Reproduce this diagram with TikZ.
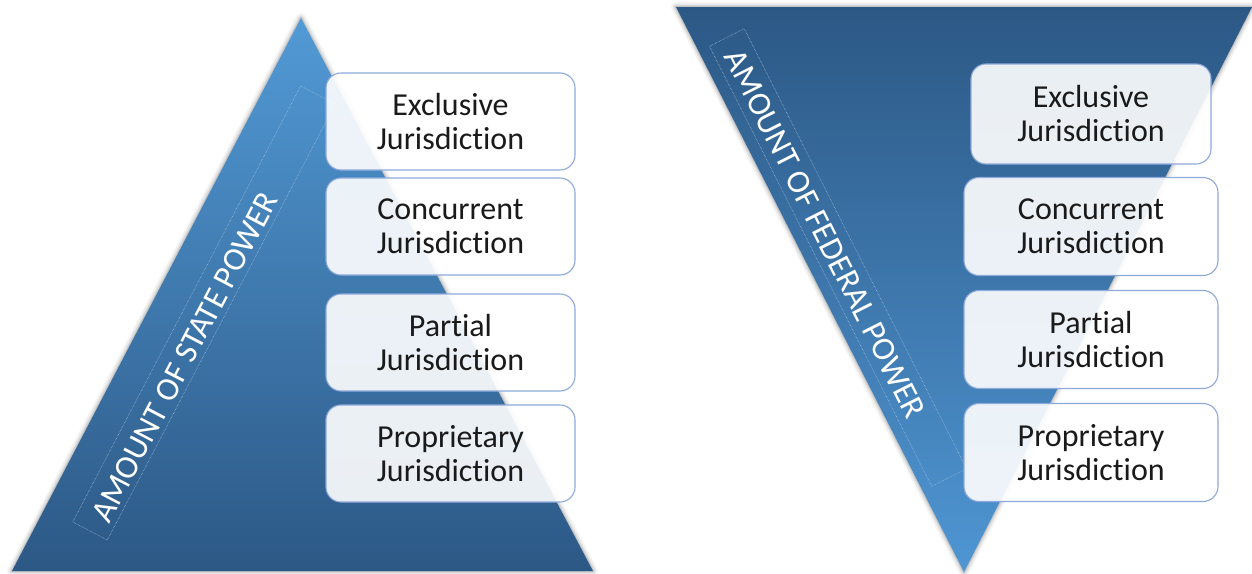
\documentclass[tikz,border=0pt]{standalone}
\usepackage{fontspec}
\setmainfont{Carlito}[RawFeature={-liga;-clig;-dlig}]
\definecolor{ltop}{HTML}{529AD6}
\definecolor{lmid}{HTML}{3B7DB8}
\definecolor{lbot}{HTML}{2C5885}
\definecolor{rtop}{HTML}{2C5885}
\definecolor{rmid}{HTML}{3775AE}
\definecolor{rbot}{HTML}{4F96D3}
\definecolor{boxborder}{HTML}{8EA9DB}
\definecolor{textdark}{HTML}{1A1A1A}
\definecolor{dotcol}{HTML}{B8CCE4}
\begin{document}
\begin{tikzpicture}[x=1pt,y=-1pt,
  jbox/.style={draw=boxborder, line width=1.1pt, fill=white, fill opacity=0.9, text opacity=1,
    rounded corners=15pt, align=center, inner sep=0pt, text=textdark,
    font=\fontsize{32}{34}\selectfont},
  dotrect/.style={draw=dotcol, densely dotted, line width=0.5pt, inner sep=0pt},
  powertext/.style={text=white, font=\fontsize{33}{33}\selectfont, inner sep=0pt},
  halo/.style={draw=black, line join=round}
]
\useasboundingbox (0,0) rectangle (1252,573);
\fill[white] (0,0) rectangle (1252,573);

% ---------- left triangle ----------
\coordinate (la) at (301,18);
\coordinate (lb) at (12,571);
\coordinate (lc) at (593,571);
\foreach \w/\o in {10/0.04,7/0.05,4/0.07,2/0.09}
  \draw[halo, line width=\w pt, draw opacity=\o] (la) -- (lb) -- (lc) -- cycle;
\shade[top color=ltop, middle color=lmid, bottom color=lbot] (la) -- (lb) -- (lc) -- cycle;

\node[dotrect, rotate=62.4, minimum width=492pt, minimum height=39pt] (lr) at (204,313) {};
\node[powertext, rotate=62.4] (lt) at (185,357) {AMOUNT OF STATE POWER};

% ---------- right triangle ----------
\coordinate (ra) at (676,7);
\coordinate (rb) at (1252,7);
\coordinate (rc) at (964,572);
\foreach \w/\o in {10/0.04,7/0.05,4/0.07,2/0.09}
  \draw[halo, line width=\w pt, draw opacity=\o] (ra) -- (rb) -- (rc) -- cycle;
\shade[top color=rtop, middle color=rmid, bottom color=rbot] (ra) -- (rb) -- (rc) -- cycle;

\node[dotrect, rotate=-63.2, minimum width=493pt, minimum height=39pt] (rr) at (838,257.5) {};
\node[powertext, rotate=-63.2] (rt) at (825,234) {AMOUNT OF FEDERAL POWER};

% ---------- left boxes ----------
\node[jbox, minimum width=249pt, minimum height=97pt] (l1) at (450.5,121.5) {Exclusive\\Jurisdiction};
\node[jbox, minimum width=249pt, minimum height=97pt] (l2) at (450.5,226.5) {Concurrent\\Jurisdiction};
\node[jbox, minimum width=249pt, minimum height=97pt] (l3) at (450.5,342.5) {Partial\\Jurisdiction};
\node[jbox, minimum width=249pt, minimum height=97pt] (l4) at (450.5,453.5) {Proprietary\\Jurisdiction};

% ---------- right boxes ----------
\node[jbox, minimum width=240pt, minimum height=100pt] (r1) at (1091,114) {Exclusive\\Jurisdiction};
\node[jbox, minimum width=254pt, minimum height=98pt] (r2) at (1091,226.5) {Concurrent\\Jurisdiction};
\node[jbox, minimum width=254pt, minimum height=98pt] (r3) at (1091,339.5) {Partial\\Jurisdiction};
\node[jbox, minimum width=254pt, minimum height=98pt] (r4) at (1091,452.5) {Proprietary\\Jurisdiction};
\end{tikzpicture}
\end{document}
